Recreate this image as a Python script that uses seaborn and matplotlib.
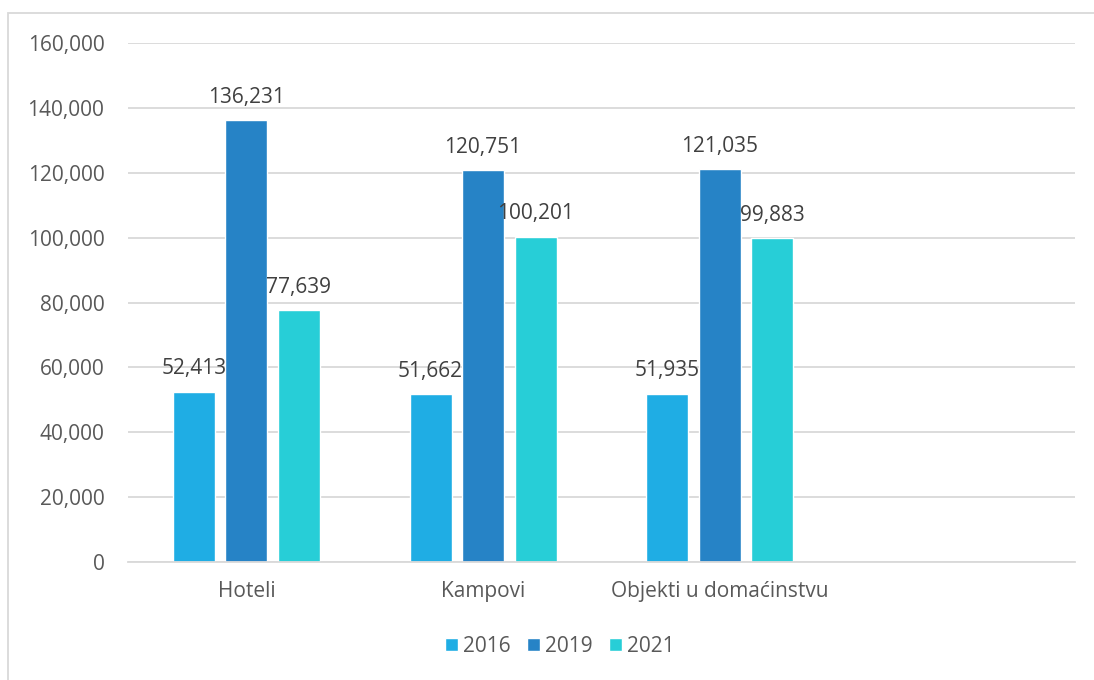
import matplotlib
matplotlib.use("Agg")
import matplotlib.pyplot as plt
import seaborn as sns
import pandas as pd
from matplotlib.patches import Rectangle
from matplotlib.ticker import FuncFormatter

categories = ["Hoteli", "Kampovi", "Objekti u domaćinstvu"]
years = ["2016", "2019", "2021"]
values_2016 = [52413, 51662, 51935]
values_2019 = [136231, 120751, 121035]
values_2021 = [77639, 100201, 99883]
colors = ["#1FADE4", "#2683C6", "#27CED7"]

rows = []
for yr, vals in zip(years, [values_2016, values_2019, values_2021]):
    for c, v in zip(categories, vals):
        rows.append({"cat": c, "year": yr, "val": v})
df = pd.DataFrame(rows)

sns.set_theme(style="white")
plt.rcParams["font.family"] = ["Open Sans", "DejaVu Sans"]

fig = plt.figure(figsize=(10.94, 6.8), dpi=100)
ax = fig.add_axes([128/1094, 1-562/680, (1075-128)/1094, (562-43)/680])

order = categories + [" "]
sns.barplot(data=df, x="cat", y="val", hue="year", order=order, hue_order=years,
            palette=colors, width=0.666, gap=0.2, ax=ax, legend=True, saturation=1)

ax.set_ylim(0, 160000)
ax.set_yticks(range(0, 160001, 20000))
ax.yaxis.set_major_formatter(FuncFormatter(lambda v, p: f"{int(v):,}"))
ax.grid(axis="y", color="#D9D9D9", linewidth=1.3)
ax.set_axisbelow(True)
for s in ["left", "right", "top"]:
    ax.spines[s].set_visible(False)
ax.spines["bottom"].set_color("#D9D9D9")
ax.spines["bottom"].set_linewidth(1.3)
ax.tick_params(axis="both", length=0, labelsize=15, colors="#595959")
ax.tick_params(axis="y", pad=17)
ax.tick_params(axis="x", pad=14)
ax.set_xlabel("")
ax.set_ylabel("")

for cont in ax.containers:
    ax.bar_label(cont, labels=[f"{int(v):,}" for v in cont.datavalues],
                 padding=9, fontsize=15, color="#404040")

h, l = ax.get_legend_handles_labels()
ax.legend(h, l, loc="center", bbox_to_anchor=(560/1094, 1-646/680),
          bbox_transform=fig.transFigure, ncol=3, frameon=False,
          fontsize=15, labelcolor="#595959", handlelength=0.6, handleheight=0.6,
          handletextpad=0.25, columnspacing=0.8)

fig.patches.append(Rectangle((8/1094, -0.05), 1.1, 1-13/680+0.05,
                             transform=fig.transFigure, fill=False,
                             edgecolor="#D9D9D9", linewidth=1.3))

fig.savefig("out.png", dpi=100)
